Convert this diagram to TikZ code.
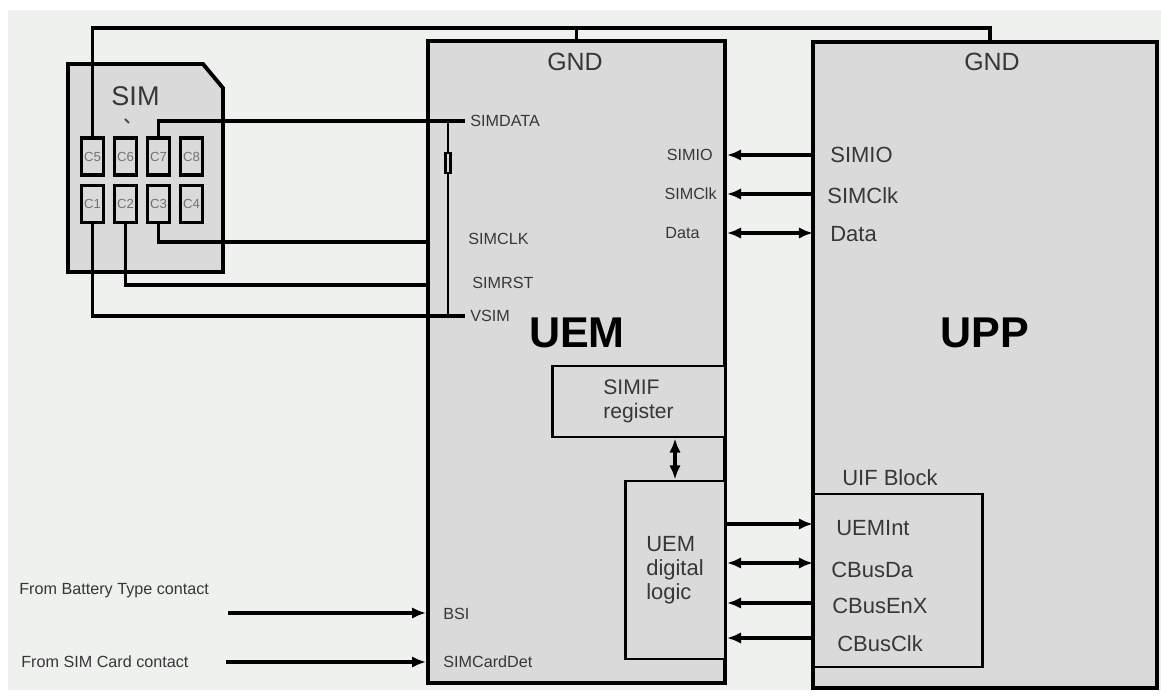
\documentclass[tikz,border=0pt]{standalone}
\usepackage{fontspec}
\setmainfont{Liberation Sans}
\usetikzlibrary{arrows.meta}
\definecolor{bg}{RGB}{238,241,238}
\definecolor{chip}{RGB}{218,218,218}
\definecolor{txt}{RGB}{55,55,55}

\begin{document}
\begin{tikzpicture}
\tikzstyle{block}=[draw,line width=2.2pt,fill=chip,inner sep=0pt]
\tikzstyle{sub}=[draw,line width=1.7pt,fill=chip,inner sep=0pt,text=txt,align=left,font=\fontsize{12}{14}\selectfont]
\tikzstyle{pad}=[draw,line width=1.8pt,fill=chip,inner sep=0pt,minimum width=0.44cm,minimum height=0.74cm,text=black!55,font=\fontsize{7.5}{8}\selectfont]
\tikzstyle{pin}=[inner sep=0pt,text=txt,font=\fontsize{9.2}{10}\selectfont]
\tikzstyle{port}=[inner sep=0pt,text=txt,font=\fontsize{12.5}{14}\selectfont]
\tikzstyle{big}=[inner sep=0pt,font=\fontsize{24.5}{26}\selectfont\bfseries]
\tikzstyle{wire}=[line width=1.9pt]
\tikzstyle{sig}=[line width=1.8pt,-{Latex[length=8pt,width=6.5pt]}]
\tikzstyle{bus}=[line width=1.8pt,{Latex[length=8pt,width=6.5pt]}-{Latex[length=8pt,width=6.5pt]}]
\fill[white] (0,0) rectangle (23.22,13.94);
\fill[bg] (0.16,0.14) rectangle (23.22,13.74);
\draw[line width=2.2pt,fill=chip] (1.36,12.66) -- (4.06,12.66) -- (4.46,12.18) -- (4.46,8.50) -- (1.36,8.50) -- cycle;
\node [inner sep=0pt,text=txt,font=\fontsize{15.4}{16}\selectfont] (simlbl) at (2.71,12.02) {SIM};
\draw[line width=1.1pt,black!70] (2.50,11.56) -- (2.58,11.48);
\node [block,minimum width=5.94cm,minimum height=12.84cm] (uem) at (11.53,6.70) {};
\node [block,minimum width=6.88cm,minimum height=12.92cm] (upp) at (19.70,6.64) {};
\node [sub,minimum width=3.46cm,minimum height=1.42cm] (simif) at (12.77,5.91) {SIMIF\\register};
\node [sub,minimum width=2.00cm,minimum height=3.56cm,font=\fontsize{12.5}{13.7}\selectfont] (logic) at (13.50,2.54) {UEM\\digital\\logic};
\node [sub,minimum width=3.38cm,minimum height=3.46cm] (uif) at (17.95,2.33) {};
\node [pad] (c5) at (1.85,10.81) {C5};
\node [pad] (c6) at (2.51,10.81) {C6};
\node [pad] (c7) at (3.17,10.81) {C7};
\node [pad] (c8) at (3.83,10.81) {C8};
\node [pad] (c1) at (1.85,9.86) {C1};
\node [pad] (c2) at (2.51,9.86) {C2};
\node [pad] (c3) at (3.17,9.86) {C3};
\node [pad] (c4) at (3.83,9.86) {C4};
\coordinate (gndr) at (19.80,13.38);
\coordinate (pdata) at (9.30,11.52);
\coordinate (pclk) at (8.56,9.10);
\coordinate (prst) at (8.56,8.24);
\coordinate (pvsim) at (9.30,7.62);
\draw[wire] (c5.north) |- (gndr) -- (gndr |- upp.north);
\draw[wire] (uem.north) -- (uem.north |- gndr);
\draw[wire] (c7.north) |- (pdata);
\draw[wire] (c3.south) |- (pclk);
\draw[wire] (c2.south) |- (prst);
\draw[wire] (c1.south) |- (pvsim);
\node [draw,line width=1.3pt,fill=chip,inner sep=0pt,minimum width=0.1cm,minimum height=0.4cm] (res) at (8.96,10.68) {};
\draw[line width=1.5pt] (res.north) -- (res.north |- pdata);
\draw[line width=1.5pt] (res.south) -- (res.south |- pvsim);
\coordinate (aio) at (16.26,10.84);
\coordinate (aclk) at (16.26,10.06);
\coordinate (adat) at (16.26,9.28);
\coordinate (aint) at (16.26,3.46);
\coordinate (ada) at (16.26,2.68);
\coordinate (aenx) at (16.26,1.88);
\coordinate (aclkb) at (16.26,1.18);
\draw[sig] (aio) -- (aio -| uem.east);
\draw[sig] (aclk) -- (aclk -| uem.east);
\draw[bus] (adat) -- (adat -| uem.east);
\draw[sig] (aint -| uem.east) -- (aint);
\draw[bus] (ada) -- (ada -| uem.east);
\draw[sig] (aenx) -- (aenx -| uem.east);
\draw[sig] (aclkb) -- (aclkb -| uem.east);
\draw[bus] (logic.north) -- (logic.north |- simif.south);
\coordinate (bat) at (4.56,1.68);
\coordinate (card) at (4.52,0.70);
\draw[sig] (bat) -- (bat -| uem.west);
\draw[sig] (card) -- (card -| uem.west);
\node [pin,anchor=west] (batlbl) at (0.38,2.12) {From Battery Type contact};
\node [pin,anchor=west] (cardlbl) at (0.42,0.70) {From SIM Card contact};
\node [port] (gnd1) at (11.50,12.70) {\fontsize{14.2}{16}\selectfont GND};
\node [port] (gnd2) at (19.84,12.70) {\fontsize{14.2}{16}\selectfont GND};
\node [big] (uemlbl) at (11.54,7.28) {UEM};
\node [big] (upplbl) at (19.70,7.28) {UPP};
\node [pin,anchor=west] (l1) at (9.40,11.52) {SIMDATA};
\node [pin,anchor=west] (l2) at (9.36,9.16) {SIMCLK};
\node [pin,anchor=west] (l3) at (9.44,8.28) {SIMRST};
\node [pin,anchor=west] (l4) at (9.40,7.62) {VSIM};
\node [pin,anchor=east] (l5) at (14.26,10.84) {SIMIO};
\node [pin,anchor=east] (l6) at (14.34,10.06) {SIMClk};
\node [pin,anchor=west] (l7) at (13.30,9.28) {Data};
\node [pin,anchor=west] (l8) at (8.86,1.66) {BSI};
\node [pin,anchor=west] (l9) at (8.86,0.70) {SIMCardDet};
\node [port,anchor=west] (r1) at (16.60,10.84) {SIMIO};
\node [port,anchor=west] (r2) at (16.54,10.02) {SIMClk};
\node [port,anchor=west] (r3) at (16.60,9.26) {Data};
\node [port,anchor=west] (uiflbl) at (16.84,4.38) {UIF Block};
\node [port,anchor=west] (r4) at (16.72,3.38) {UEMInt};
\node [port,anchor=west] (r5) at (16.62,2.54) {CBusDa};
\node [port,anchor=west] (r6) at (16.64,1.82) {CBusEnX};
\node [port,anchor=west] (r7) at (16.74,1.06) {CBusClk};
\end{tikzpicture}
\end{document}
